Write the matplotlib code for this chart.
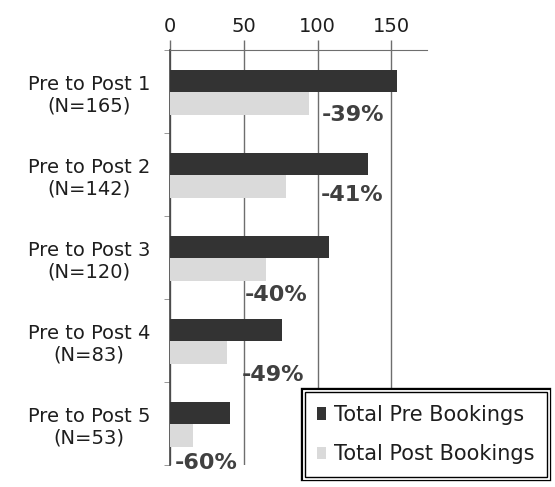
import matplotlib
matplotlib.use("Agg")
import matplotlib.pyplot as plt
import matplotlib.patheffects as pe
import numpy as np

# values
categories = ["Pre to Post 1\n(N=165)", "Pre to Post 2\n(N=142)", "Pre to Post 3\n(N=120)",
              "Pre to Post 4\n(N=83)", "Pre to Post 5\n(N=53)"]
pre_bookings = [154, 134, 108, 76, 41]
post_bookings = [94, 79, 65, 39, 16]
change_labels = ["-39%", "-41%", "-40%", "-49%", "-60%"]
# where each change label sits (x in data units, y offset in category units)
change_x = [103, 102, 51, 49, 3]
change_dy = [0.28, 0.25, 0.45, 0.42, 0.48]
x_ticks = [0, 50, 100, 150]

PRE_COLOR = "#333333"
POST_COLOR = "#dadada"
GRID_COLOR = "#6e6e6e"
TEXT_COLOR = "#1e1e1e"

fig = plt.figure(figsize=(5.55, 4.87), dpi=100)
ax = fig.add_axes([0.306, 0.045, 0.463, 0.852])

y = np.arange(len(categories))
bar_h = 0.27
ax.barh(y - bar_h / 2 + 0.01, pre_bookings, height=bar_h, color=PRE_COLOR,
        label="Total Pre Bookings", zorder=3)
ax.barh(y + bar_h / 2 + 0.01, post_bookings, height=bar_h, color=POST_COLOR,
        label="Total Post Bookings", zorder=3)

for yi, txt, xi, dy in zip(y, change_labels, change_x, change_dy):
    ax.text(xi, yi + dy, txt, fontsize=16, fontweight="bold", color="#404040",
            ha="left", va="center", zorder=4, clip_on=False)

ax.set_xlim(0, 174)
ax.set_ylim(len(categories) - 0.5, -0.5)

# x axis on top
ax.xaxis.tick_top()
ax.set_xticks(x_ticks)
ax.set_xticklabels([str(t) for t in x_ticks], fontsize=14, color=TEXT_COLOR)
ax.tick_params(axis="x", direction="out", length=7, width=1, color=GRID_COLOR, pad=3)
ax.grid(axis="x", color=GRID_COLOR, linewidth=1, zorder=0)

# category labels, small ticks at group boundaries
ax.set_yticks(y)
ax.set_yticklabels(categories, fontsize=14, color=TEXT_COLOR,
                   multialignment="center", linespacing=1.2)
ax.tick_params(axis="y", length=0, pad=14)
ax.set_yticks(np.arange(len(categories) + 1) - 0.5, minor=True)
ax.tick_params(axis="y", which="minor", length=4, color="#888888", direction="out")

for side in ["right", "bottom"]:
    ax.spines[side].set_visible(False)
ax.spines["top"].set_color(GRID_COLOR)
ax.spines["left"].set_color("#444444")
ax.spines["left"].set_linewidth(1.2)

leg = fig.legend(loc="lower right", bbox_to_anchor=(0.993, 0.012),
                 prop={"size": 15},
                 handlelength=0.4, handleheight=0.55, handletextpad=0.4,
                 borderpad=0.6, labelspacing=0.95, borderaxespad=0.2,
                 fancybox=False, framealpha=1)
frame = leg.get_frame()
frame.set_edgecolor("black")
frame.set_linewidth(1)
frame.set_path_effects([pe.Stroke(linewidth=6, foreground="black"),
                        pe.Stroke(linewidth=3.5, foreground="white"),
                        pe.Normal()])
for t in leg.get_texts():
    t.set_color(TEXT_COLOR)

fig.savefig("out.png", dpi=100)
